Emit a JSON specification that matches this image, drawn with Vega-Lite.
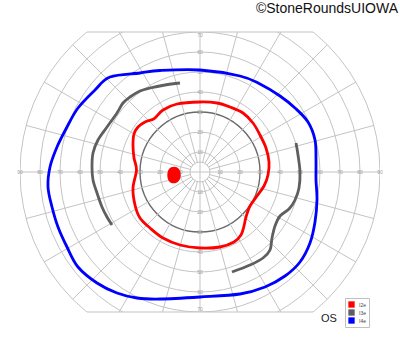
{
  "$schema": "https://vega.github.io/schema/vega-lite/v6.json",
  "autosize": {"type": "none"},
  "width": 360,
  "height": 280,
  "padding": {"left": 20, "right": 20, "top": 32, "bottom": 40},
  "background": "white",
  "config": {"view": {"stroke": null}},
  "datasets": {
    "rings": [{"r": 5}, {"r": 10}, {"r": 20}, {"r": 40}, {"r": 50}, {"r": 60}, {"r": 70}, {"r": 80}, {"r": 90}],
    "ring30": [{"r": 30}],
    "meridians": [
      {"x": -90, "y": 0, "x2": 90, "y2": 0},
      {"x": 0, "y": -90, "x2": 0, "y2": 90},
      {"x": 4.83, "y": 1.29, "x2": 86.93, "y2": 23.29},
      {"x": 4.33, "y": 2.5, "x2": 77.94, "y2": 45},
      {"x": 3.54, "y": 3.54, "x2": 63.64, "y2": 63.64},
      {"x": 2.5, "y": 4.33, "x2": 45, "y2": 77.94},
      {"x": 1.29, "y": 4.83, "x2": 23.29, "y2": 86.93},
      {"x": -4.83, "y": 1.29, "x2": -86.93, "y2": 23.29},
      {"x": -4.33, "y": 2.5, "x2": -77.94, "y2": 45},
      {"x": -3.54, "y": 3.54, "x2": -63.64, "y2": 63.64},
      {"x": -2.5, "y": 4.33, "x2": -45, "y2": 77.94},
      {"x": -1.29, "y": 4.83, "x2": -23.29, "y2": 86.93},
      {"x": 4.83, "y": -1.29, "x2": 86.93, "y2": -23.29},
      {"x": 4.33, "y": -2.5, "x2": 77.94, "y2": -45},
      {"x": 3.54, "y": -3.54, "x2": 63.64, "y2": -63.64},
      {"x": 2.5, "y": -4.33, "x2": 45, "y2": -77.94},
      {"x": 1.29, "y": -4.83, "x2": 23.29, "y2": -86.93},
      {"x": -4.83, "y": -1.29, "x2": -86.93, "y2": -23.29},
      {"x": -4.33, "y": -2.5, "x2": -77.94, "y2": -45},
      {"x": -3.54, "y": -3.54, "x2": -63.64, "y2": -63.64},
      {"x": -2.5, "y": -4.33, "x2": -45, "y2": -77.94},
      {"x": -1.29, "y": -4.83, "x2": -23.29, "y2": -86.93}
    ],
    "bounds": [
      {"x": -56.57, "y": 70, "x2": 56.57, "y2": 70},
      {"x": -56.57, "y": -70, "x2": 56.57, "y2": -70}
    ],
    "ticklabels": [
      {"x": -90, "y": 0, "t": "90"}, {"x": -80, "y": 0, "t": "80"}, {"x": -70, "y": 0, "t": "70"},
      {"x": -60, "y": 0, "t": "60"}, {"x": -50, "y": 0, "t": "50"}, {"x": -40, "y": 0, "t": "40"},
      {"x": -30, "y": 0, "t": "30"}, {"x": -20, "y": 0, "t": "20"}, {"x": -10, "y": 0, "t": "10"},
      {"x": 10, "y": 0, "t": "10"}, {"x": 20, "y": 0, "t": "20"}, {"x": 30, "y": 0, "t": "30"},
      {"x": 40, "y": 0, "t": "40"}, {"x": 50, "y": 0, "t": "50"}, {"x": 60, "y": 0, "t": "60"},
      {"x": 70, "y": 0, "t": "70"}, {"x": 80, "y": 0, "t": "80"}, {"x": 90, "y": 0, "t": "90"},
      {"x": 0, "y": 10, "t": "10"}, {"x": 0, "y": 20, "t": "20"}, {"x": 0, "y": 30, "t": "30"},
      {"x": 0, "y": 40, "t": "40"}, {"x": 0, "y": 50, "t": "50"}, {"x": 0, "y": 60, "t": "60"},
      {"x": 0, "y": 68.5, "t": "70"},
      {"x": 0, "y": -10, "t": "10"}, {"x": 0, "y": -20, "t": "20"}, {"x": 0, "y": -30, "t": "30"},
      {"x": 0, "y": -40, "t": "40"}, {"x": 0, "y": -50, "t": "50"}, {"x": 0, "y": -60, "t": "60"},
      {"x": 0, "y": -68.5, "t": "70"}
    ],
    "closed": [
      {"iso": "I4e", "o": 1, "x": -45, "y": 47.5},
      {"iso": "I4e", "o": 2, "x": -30, "y": 49.5},
      {"iso": "I4e", "o": 3, "x": -20, "y": 50.75},
      {"iso": "I4e", "o": 4, "x": 0, "y": 51},
      {"iso": "I4e", "o": 5, "x": 20, "y": 48},
      {"iso": "I4e", "o": 6, "x": 30, "y": 44},
      {"iso": "I4e", "o": 7, "x": 40, "y": 38},
      {"iso": "I4e", "o": 8, "x": 47.5, "y": 32},
      {"iso": "I4e", "o": 9, "x": 54, "y": 25},
      {"iso": "I4e", "o": 10, "x": 57.5, "y": 16},
      {"iso": "I4e", "o": 11, "x": 58, "y": 6},
      {"iso": "I4e", "o": 12, "x": 58, "y": -4},
      {"iso": "I4e", "o": 13, "x": 58.5, "y": -14},
      {"iso": "I4e", "o": 14, "x": 57.5, "y": -25},
      {"iso": "I4e", "o": 15, "x": 55, "y": -35.5},
      {"iso": "I4e", "o": 16, "x": 50, "y": -45},
      {"iso": "I4e", "o": 17, "x": 42.5, "y": -52},
      {"iso": "I4e", "o": 18, "x": 32.5, "y": -57.5},
      {"iso": "I4e", "o": 19, "x": 20, "y": -61},
      {"iso": "I4e", "o": 20, "x": 0, "y": -62.5},
      {"iso": "I4e", "o": 21, "x": -20, "y": -63.5},
      {"iso": "I4e", "o": 22, "x": -31.5, "y": -63},
      {"iso": "I4e", "o": 23, "x": -41.5, "y": -60.5},
      {"iso": "I4e", "o": 24, "x": -51.5, "y": -55.5},
      {"iso": "I4e", "o": 25, "x": -61, "y": -47.5},
      {"iso": "I4e", "o": 26, "x": -66.5, "y": -37.5},
      {"iso": "I4e", "o": 27, "x": -71, "y": -27.5},
      {"iso": "I4e", "o": 28, "x": -74, "y": -17.5},
      {"iso": "I4e", "o": 29, "x": -76, "y": -7.5},
      {"iso": "I4e", "o": 30, "x": -75, "y": 2.5},
      {"iso": "I4e", "o": 31, "x": -71.5, "y": 12.5},
      {"iso": "I4e", "o": 32, "x": -66.5, "y": 22.5},
      {"iso": "I4e", "o": 33, "x": -61, "y": 32},
      {"iso": "I4e", "o": 34, "x": -52.5, "y": 41},
      {"iso": "I2e", "o": 1, "x": 0, "y": 35},
      {"iso": "I2e", "o": 2, "x": 8.5, "y": 34.5},
      {"iso": "I2e", "o": 3, "x": 15, "y": 32.5},
      {"iso": "I2e", "o": 4, "x": 21.5, "y": 29.5},
      {"iso": "I2e", "o": 5, "x": 26.5, "y": 24.5},
      {"iso": "I2e", "o": 6, "x": 30, "y": 18.5},
      {"iso": "I2e", "o": 7, "x": 33, "y": 12},
      {"iso": "I2e", "o": 8, "x": 34.5, "y": 5},
      {"iso": "I2e", "o": 9, "x": 34, "y": -1.5},
      {"iso": "I2e", "o": 10, "x": 32, "y": -7},
      {"iso": "I2e", "o": 11, "x": 28.5, "y": -12},
      {"iso": "I2e", "o": 12, "x": 25, "y": -17},
      {"iso": "I2e", "o": 13, "x": 23, "y": -22.5},
      {"iso": "I2e", "o": 14, "x": 22, "y": -27},
      {"iso": "I2e", "o": 15, "x": 20.5, "y": -31.5},
      {"iso": "I2e", "o": 16, "x": 17, "y": -35},
      {"iso": "I2e", "o": 17, "x": 10, "y": -37.5},
      {"iso": "I2e", "o": 18, "x": 0, "y": -38},
      {"iso": "I2e", "o": 19, "x": -10, "y": -36.5},
      {"iso": "I2e", "o": 20, "x": -18.5, "y": -33},
      {"iso": "I2e", "o": 21, "x": -25, "y": -28},
      {"iso": "I2e", "o": 22, "x": -30, "y": -23},
      {"iso": "I2e", "o": 23, "x": -32.5, "y": -16.5},
      {"iso": "I2e", "o": 24, "x": -33.5, "y": -8},
      {"iso": "I2e", "o": 25, "x": -31.75, "y": 1},
      {"iso": "I2e", "o": 26, "x": -33, "y": 7},
      {"iso": "I2e", "o": 27, "x": -33.5, "y": 13.5},
      {"iso": "I2e", "o": 28, "x": -33, "y": 19},
      {"iso": "I2e", "o": 29, "x": -31, "y": 22.5},
      {"iso": "I2e", "o": 30, "x": -27.5, "y": 25},
      {"iso": "I2e", "o": 31, "x": -24.5, "y": 26},
      {"iso": "I2e", "o": 32, "x": -22.5, "y": 27},
      {"iso": "I2e", "o": 33, "x": -18.5, "y": 31},
      {"iso": "I2e", "o": 34, "x": -11.5, "y": 34}
    ],
    "open": [
      {"iso": "I3e", "seg": "a", "o": 1, "x": -10, "y": 44.5},
      {"iso": "I3e", "seg": "a", "o": 2, "x": -17.5, "y": 43.5},
      {"iso": "I3e", "seg": "a", "o": 3, "x": -25, "y": 42},
      {"iso": "I3e", "seg": "a", "o": 4, "x": -30, "y": 40.5},
      {"iso": "I3e", "seg": "a", "o": 5, "x": -35, "y": 37.5},
      {"iso": "I3e", "seg": "a", "o": 6, "x": -38.5, "y": 34.5},
      {"iso": "I3e", "seg": "a", "o": 7, "x": -41.5, "y": 29.5},
      {"iso": "I3e", "seg": "a", "o": 8, "x": -46.5, "y": 22.5},
      {"iso": "I3e", "seg": "a", "o": 9, "x": -51, "y": 16},
      {"iso": "I3e", "seg": "a", "o": 10, "x": -53.5, "y": 9.5},
      {"iso": "I3e", "seg": "a", "o": 11, "x": -54, "y": 2.5},
      {"iso": "I3e", "seg": "a", "o": 12, "x": -53.5, "y": -4},
      {"iso": "I3e", "seg": "a", "o": 13, "x": -51.5, "y": -10.5},
      {"iso": "I3e", "seg": "a", "o": 14, "x": -49, "y": -17.5},
      {"iso": "I3e", "seg": "a", "o": 15, "x": -46.5, "y": -22.5},
      {"iso": "I3e", "seg": "a", "o": 16, "x": -44, "y": -26.5},
      {"iso": "I3e", "seg": "b", "o": 1, "x": 48, "y": 14.5},
      {"iso": "I3e", "seg": "b", "o": 2, "x": 49, "y": 8.5},
      {"iso": "I3e", "seg": "b", "o": 3, "x": 50, "y": 0},
      {"iso": "I3e", "seg": "b", "o": 4, "x": 49.5, "y": -8},
      {"iso": "I3e", "seg": "b", "o": 5, "x": 47.5, "y": -14},
      {"iso": "I3e", "seg": "b", "o": 6, "x": 44.5, "y": -18.5},
      {"iso": "I3e", "seg": "b", "o": 7, "x": 40, "y": -22},
      {"iso": "I3e", "seg": "b", "o": 8, "x": 37.5, "y": -27},
      {"iso": "I3e", "seg": "b", "o": 9, "x": 36, "y": -33},
      {"iso": "I3e", "seg": "b", "o": 10, "x": 35, "y": -39},
      {"iso": "I3e", "seg": "b", "o": 11, "x": 31.5, "y": -43},
      {"iso": "I3e", "seg": "b", "o": 12, "x": 25, "y": -46.5},
      {"iso": "I3e", "seg": "b", "o": 13, "x": 16, "y": -50}
    ],
    "blind": [{"x": -13, "y": -1.5}],
    "os": [{"x": 64.5, "y": -73.5, "t": "OS"}],
    "copy": [{"x": 99, "y": 81.5, "t": "©StoneRoundsUIOWA"}]
  },
  "layer": [
    {
      "data": {"name": "rings"},
      "mark": {"type": "point", "shape": "circle", "filled": false, "stroke": "#c4c4c4", "strokeWidth": 1, "opacity": 1, "clip": true},
      "encoding": {
        "x": {"datum": 0, "type": "quantitative", "scale": {"domain": [-90, 90], "nice": false, "zero": false}, "axis": null},
        "y": {"datum": 0, "type": "quantitative", "scale": {"domain": [-70, 70], "nice": false, "zero": false}, "axis": null},
        "size": {"field": "r", "type": "quantitative", "scale": {"type": "pow", "exponent": 2, "domain": [0, 90], "range": [0, 129600]}, "legend": null}
      }
    },
    {
      "data": {"name": "ring30"},
      "mark": {"type": "point", "shape": "circle", "filled": false, "stroke": "#6a6a6a", "strokeWidth": 1.4, "opacity": 1, "clip": true},
      "encoding": {
        "x": {"datum": 0, "type": "quantitative"},
        "y": {"datum": 0, "type": "quantitative"},
        "size": {"field": "r", "type": "quantitative", "legend": null}
      }
    },
    {
      "data": {"name": "meridians"},
      "mark": {"type": "rule", "stroke": "#c4c4c4", "strokeWidth": 1, "clip": true},
      "encoding": {
        "x": {"field": "x", "type": "quantitative"},
        "y": {"field": "y", "type": "quantitative"},
        "x2": {"field": "x2"},
        "y2": {"field": "y2"}
      }
    },
    {
      "data": {"name": "bounds"},
      "mark": {"type": "rule", "stroke": "#c4c4c4", "strokeWidth": 1.2, "clip": false},
      "encoding": {
        "x": {"field": "x", "type": "quantitative"},
        "y": {"field": "y", "type": "quantitative"},
        "x2": {"field": "x2"},
        "y2": {"field": "y2"}
      }
    },
    {
      "data": {"name": "ticklabels"},
      "mark": {"type": "text", "fontSize": 5, "font": "Liberation Sans", "color": "#a0a0a0", "align": "center", "baseline": "middle"},
      "encoding": {
        "x": {"field": "x", "type": "quantitative"},
        "y": {"field": "y", "type": "quantitative"},
        "text": {"field": "t"}
      }
    },
    {
      "data": {"name": "closed"},
      "mark": {"type": "line", "interpolate": "cardinal-closed", "strokeWidth": 2.8, "clip": true},
      "encoding": {
        "x": {"field": "x", "type": "quantitative"},
        "y": {"field": "y", "type": "quantitative"},
        "order": {"field": "o", "type": "quantitative"},
        "color": {
          "field": "iso", "type": "nominal",
          "scale": {"domain": ["I2e", "I3e", "I4e"], "range": ["#ff0000", "#5f5f5f", "#0000ff"]},
          "legend": {
            "title": null, "orient": "none", "legendX": 325, "legendY": 266,
            "symbolType": "square", "symbolSize": 40, "symbolStrokeWidth": 0,
            "labelFontSize": 5, "labelFont": "Liberation Sans", "labelColor": "#444",
            "rowPadding": 1, "padding": 3, "strokeColor": "#c0c0c0", "fillColor": "white",
            "labelOffset": 4,
            "encode": {"symbols": {"update": {"fill": {"scale": "color", "field": "value"}, "stroke": {"value": "transparent"}}}}
          }
        }
      }
    },
    {
      "data": {"name": "open"},
      "mark": {"type": "line", "interpolate": "cardinal", "strokeWidth": 2.8, "clip": true},
      "encoding": {
        "x": {"field": "x", "type": "quantitative"},
        "y": {"field": "y", "type": "quantitative"},
        "order": {"field": "o", "type": "quantitative"},
        "detail": {"field": "seg"},
        "color": {"field": "iso", "type": "nominal"}
      }
    },
    {
      "data": {"name": "blind"},
      "mark": {"type": "point", "filled": true, "color": "#ff0000", "opacity": 1, "size": 280, "shape": "M0,-1 C0.5,-1 0.8,-0.6 0.8,0 C0.8,0.6 0.45,1 -0.05,1 C-0.55,1 -0.8,0.55 -0.8,0 C-0.8,-0.6 -0.5,-1 0,-1 Z"},
      "encoding": {
        "x": {"field": "x", "type": "quantitative"},
        "y": {"field": "y", "type": "quantitative"}
      }
    },
    {
      "data": {"name": "os"},
      "mark": {"type": "text", "fontSize": 11, "font": "Liberation Sans", "color": "#222", "align": "center", "baseline": "middle"},
      "encoding": {
        "x": {"field": "x", "type": "quantitative"},
        "y": {"field": "y", "type": "quantitative"},
        "text": {"field": "t"}
      }
    },
    {
      "data": {"name": "copy"},
      "mark": {"type": "text", "fontSize": 14, "font": "Liberation Sans", "color": "#111", "align": "right", "baseline": "middle"},
      "encoding": {
        "x": {"field": "x", "type": "quantitative"},
        "y": {"field": "y", "type": "quantitative"},
        "text": {"field": "t"}
      }
    }
  ]
}
